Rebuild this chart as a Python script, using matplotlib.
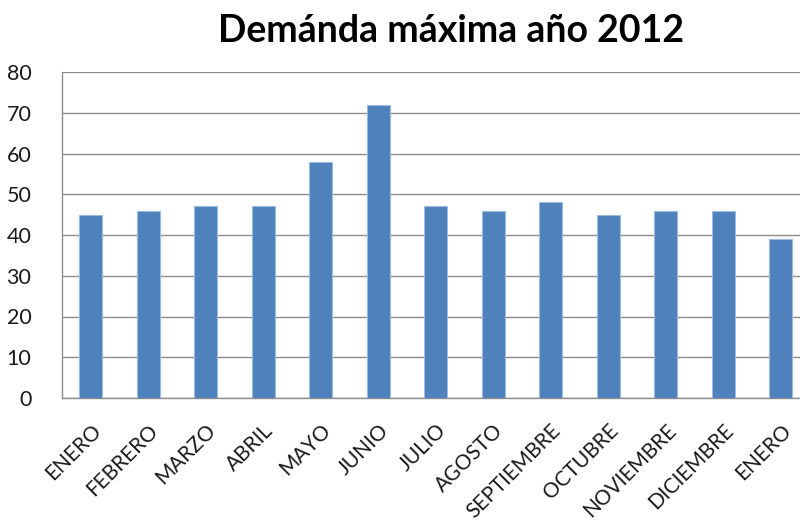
import matplotlib.pyplot as plt

# Demanda máxima por mes (lectura del gráfico)
meses = ['ENERO', 'FEBRERO', 'MARZO', 'ABRIL', 'MAYO', 'JUNIO', 'JULIO',
         'AGOSTO', 'SEPTIEMBRE', 'OCTUBRE', 'NOVIEMBRE', 'DICIEMBRE', 'ENERO']
demanda = [45, 46, 47, 47, 58, 72, 47, 46, 48, 45, 46, 46, 39]
y_ticks = [0, 10, 20, 30, 40, 50, 60, 70, 80]

plt.rcParams['font.family'] = ['Lato', 'DejaVu Sans']

fig = plt.figure(figsize=(8, 5.29), dpi=100)
# el área del gráfico se sale por la derecha, como en el original
ax = fig.add_axes([62 / 800, 131 / 529, 747.5 / 800, 326 / 529])

x = list(range(len(meses)))
ax.bar(x, demanda, width=0.4, color='#4F81BD', edgecolor='#9DB9DD', linewidth=0.8, zorder=3)

ax.set_xlim(-0.5, len(meses) - 0.5)
ax.set_ylim(0, 80)
ax.set_yticks(y_ticks)
ax.set_yticklabels([str(v) for v in y_ticks], fontsize=15.5, color='#1a1a1a')
ax.set_xticks(x)
ax.set_xticklabels(meses, rotation=45, ha='right', rotation_mode='anchor',
                   fontsize=15, color='#1a1a1a')
ax.tick_params(axis='y', length=0, pad=22)
ax.tick_params(axis='x', length=0, pad=16)

ax.grid(axis='y', color='#8c8c8c', linewidth=1, zorder=0)
for side in ['top', 'right']:
    ax.spines[side].set_visible(False)
for side in ['left', 'bottom']:
    ax.spines[side].set_color('#8c8c8c')
    ax.spines[side].set_linewidth(1)

fig.text(451 / 800, 1 - 31 / 529, 'Demánda máxima año 2012', ha='center', va='center',
         fontsize=27, fontweight='bold', color='black')

fig.savefig('out.png', dpi=100)
